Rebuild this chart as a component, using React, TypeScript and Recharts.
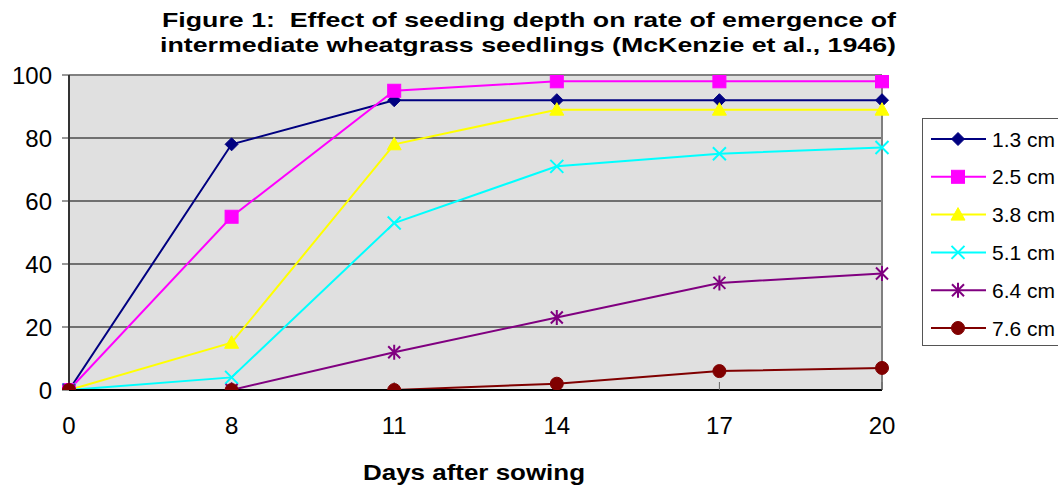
import React from "react";
import { LineChart, Line, XAxis, YAxis, CartesianGrid, ReferenceLine } from "recharts";

const days = ["0", "8", "11", "14", "17", "20"];
const d13 = [0, 78, 92, 92, 92, 92];
const d25 = [0, 55, 95, 98, 98, 98];
const d38 = [0, 15, 78, 89, 89, 89];
const d51 = [0, 4, 53, 71, 75, 77];
const d64 = [0, 0, 12, 23, 34, 37];
const d76 = [0, 0, 0, 2, 6, 7];
const yTicks = [0, 20, 40, 60, 80, 100];

const seriesDefs = [
  { key: "s13", name: "1.3 cm", values: d13, color: "#000080", shape: "diamond" },
  { key: "s25", name: "2.5 cm", values: d25, color: "#ff00ff", shape: "square" },
  { key: "s38", name: "3.8 cm", values: d38, color: "#ffff00", shape: "triangle" },
  { key: "s51", name: "5.1 cm", values: d51, color: "#00ffff", shape: "x" },
  { key: "s64", name: "6.4 cm", values: d64, color: "#800080", shape: "star" },
  { key: "s76", name: "7.6 cm", values: d76, color: "#800000", shape: "circle" },
];

const data = days.map((d, i) => {
  const row: any = { day: d };
  seriesDefs.forEach((s) => (row[s.key] = s.values[i]));
  return row;
});

const FONT = "'Liberation Sans', Arial, sans-serif";

function Marker({ cx, cy, shape, color }: { cx: number; cy: number; shape: string; color: string }) {
  const h = 6.5;
  switch (shape) {
    case "diamond":
      return <path d={`M${cx},${cy - h} L${cx + h},${cy} L${cx},${cy + h} L${cx - h},${cy} Z`} fill={color} stroke={color} />;
    case "square":
      return <rect x={cx - 6.5} y={cy - 6.5} width={13} height={13} fill={color} stroke={color} />;
    case "triangle":
      return <path d={`M${cx},${cy - 7} L${cx + 7},${cy + 5.5} L${cx - 7},${cy + 5.5} Z`} fill={color} stroke={color} />;
    case "x":
      return (
        <path d={`M${cx - h},${cy - h} L${cx + h},${cy + h} M${cx - h},${cy + h} L${cx + h},${cy - h}`} stroke={color} strokeWidth={2} fill="none" />
      );
    case "star":
      return (
        <path
          d={`M${cx - 6},${cy - 6} L${cx + 6},${cy + 6} M${cx - 6},${cy + 6} L${cx + 6},${cy - 6} M${cx},${cy - 7.5} L${cx},${cy + 7.5}`}
          stroke={color}
          strokeWidth={2}
          fill="none"
        />
      );
    default:
      return <circle cx={cx} cy={cy} r={6.5} fill={color} stroke={color} />;
  }
}

function LegendBox() {
  return (
    <div
      style={{
        position: "absolute",
        left: 922,
        top: 118,
        width: 150,
        height: 228,
        border: "1px solid #555",
        background: "#fff",
        boxSizing: "border-box",
      }}
    >
      <svg width={150} height={228} style={{ position: "absolute", left: 0, top: 0 }}>
        {seriesDefs.map((s, i) => {
          const cy = 20 + i * 37.8;
          return (
            <g key={s.key}>
              <line x1={8} x2={63} y1={cy} y2={cy} stroke={s.color} strokeWidth={2} />
              <Marker cx={35} cy={cy} shape={s.shape} color={s.color} />
              <text x={69} y={cy} dy="0.36em" fontSize={21} fontFamily={FONT} fill="#000">
                {s.name}
              </text>
            </g>
          );
        })}
      </svg>
    </div>
  );
}

export default function App() {
  return (
    <div style={{ position: "absolute", left: 0, top: 0, width: 1058, height: 489, background: "#fff", overflow: "hidden" }}>
      <LineChart width={1058} height={489} data={data} margin={{ top: 75, right: 176, left: 9, bottom: 59 }}>
        <CartesianGrid vertical={false} stroke="#000" fill="#e0e0e0" fillOpacity={1} />
        <ReferenceLine y={100} stroke="#808080" strokeWidth={2} />
        <ReferenceLine x="20" stroke="#808080" strokeWidth={2} />
        <XAxis
          dataKey="day"
          height={40}
          axisLine={{ stroke: "#000", strokeWidth: 2 }}
          tickLine={{ stroke: "#666" }}
          tickSize={-8}
          tickMargin={35}
          tick={{ fontSize: 24, fill: "#000", fontFamily: FONT }}
          interval={0}
        />
        <YAxis
          domain={[0, 100]}
          ticks={yTicks}
          width={60}
          interval={0}
          axisLine={{ stroke: "#333", strokeWidth: 2 }}
          tickLine={{ stroke: "#333" }}
          tickSize={7}
          tickMargin={10}
          tick={{ fontSize: 24, fill: "#000", fontFamily: FONT }}
          allowDataOverflow
        />
        {seriesDefs.map((s) => (
          <Line
            key={s.key}
            type="linear"
            dataKey={s.key}
            name={s.name}
            stroke={s.color}
            strokeWidth={2}
            isAnimationActive={false}
            dot={(p: any) => <Marker key={`${s.key}-${p.index}`} cx={p.cx} cy={p.cy} shape={s.shape} color={s.color} />}
            activeDot={false}
          />
        ))}
      </LineChart>
      <LegendBox />
      <svg width={1058} height={489} style={{ position: "absolute", left: 0, top: 0, pointerEvents: "none" }}>
        <text x={529} y={27} textAnchor="middle" fontSize={21} fontWeight="bold" fontFamily={FONT} fill="#000" textLength={734} lengthAdjust="spacingAndGlyphs">
          {"Figure 1:\u00a0 Effect of seeding depth on rate of emergence of"}
        </text>
        <text x={528} y={52} textAnchor="middle" fontSize={21} fontWeight="bold" fontFamily={FONT} fill="#000" textLength={736} lengthAdjust="spacingAndGlyphs">
          intermediate wheatgrass seedlings (McKenzie et al., 1946)
        </text>
        <text x={474} y={480} textAnchor="middle" fontSize={22} fontWeight="bold" fontFamily={FONT} fill="#000" textLength={222} lengthAdjust="spacingAndGlyphs">
          Days after sowing
        </text>
      </svg>
    </div>
  );
}
